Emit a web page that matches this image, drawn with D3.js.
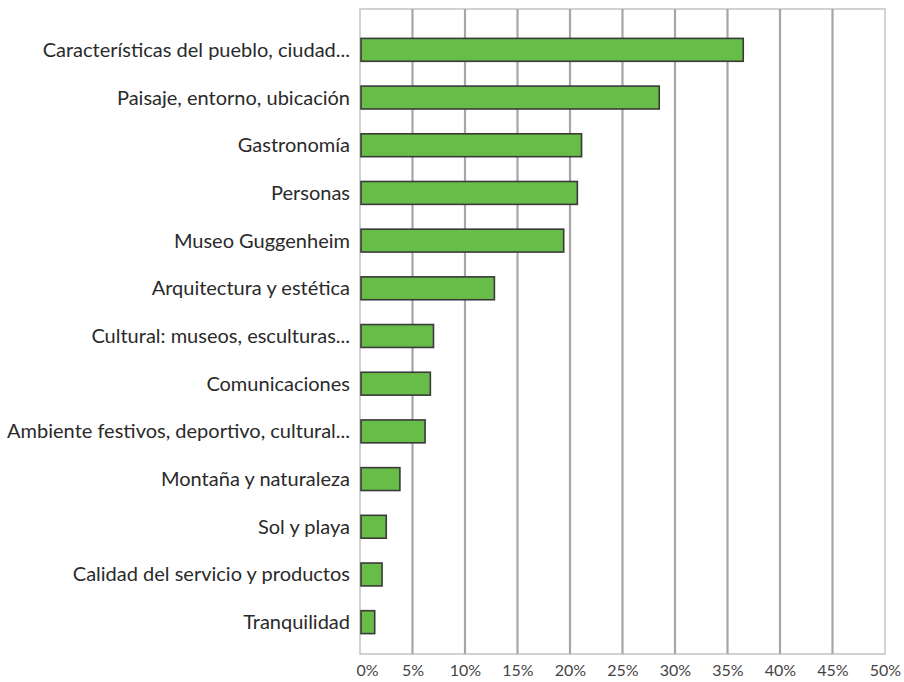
<!DOCTYPE html>
<html><head><meta charset="utf-8">
<script src="https://cdn.jsdelivr.net/npm/d3@7"></script>
<style>body{margin:0;background:#fff}svg{display:block}</style>
</head><body>
<svg id="c" width="904" height="682"></svg>
<script>
const categories = ["Características del pueblo, ciudad...","Paisaje, entorno, ubicación","Gastronomía","Personas","Museo Guggenheim","Arquitectura y estética","Cultural: museos, esculturas...","Comunicaciones","Ambiente festivos, deportivo, cultural...","Montaña y naturaleza","Sol y playa","Calidad del servicio y productos","Tranquilidad"];
const values = [36.5,28.5,21.1,20.7,19.4,12.8,7.0,6.7,6.2,3.8,2.5,2.1,1.4];
const ticks = [0,5,10,15,20,25,30,35,40,45,50];
const tickLabels = ["0%","5%","10%","15%","20%","25%","30%","35%","40%","45%","50%"];

const svg = d3.select("#c");
const L = 360, R = 885, T = 9, B = 654;
const x = d3.scaleLinear().domain([0,50]).range([L,R]);
const y = d3.scaleBand().domain(categories).range([26,646]).paddingInner(0.52).paddingOuter(0.26);

// frame
svg.append("rect").attr("x",L).attr("y",T).attr("width",R-L).attr("height",B-T)
  .attr("fill","none").attr("stroke","#c4c4c4").attr("stroke-width",1.5);
// gridlines
svg.append("g").selectAll("line").data(ticks.slice(1,-1)).join("line")
  .attr("x1",d=>x(d)).attr("x2",d=>x(d)).attr("y1",T).attr("y2",B)
  .attr("stroke","#a6a6a6").attr("stroke-width",2.2);

// bars
svg.append("g").selectAll("rect").data(values).join("rect")
  .attr("x",x(0)+1).attr("y",(d,i)=>y(categories[i]))
  .attr("width",d=>x(d)-x(0)-1).attr("height",y.bandwidth())
  .attr("fill","#67bd47").attr("stroke","#3a3a3a").attr("stroke-width",1.6);

// category labels
svg.append("g").selectAll("text").data(categories).join("text")
  .attr("x",350).attr("y",d=>y(d)+y.bandwidth()/2).attr("dy","0.35em")
  .attr("text-anchor","end").attr("font-family","Lato, 'Open Sans', sans-serif")
  .attr("font-size",20).attr("fill","#2a2a2a").text(d=>d);

// tick labels
const xa = d3.axisBottom(x).tickValues(ticks).tickFormat((d,i)=>tickLabels[i]).tickSize(0).tickPadding(11);
const g = svg.append("g").attr("transform",`translate(0,${B})`).call(xa);
g.select(".domain").remove();
g.selectAll("text").attr("font-family","Lato, 'Open Sans', sans-serif").attr("font-size",16).attr("fill","#444")
  .attr("dx",(d,i)=>i===0?7:0);
</script>
</body></html>
